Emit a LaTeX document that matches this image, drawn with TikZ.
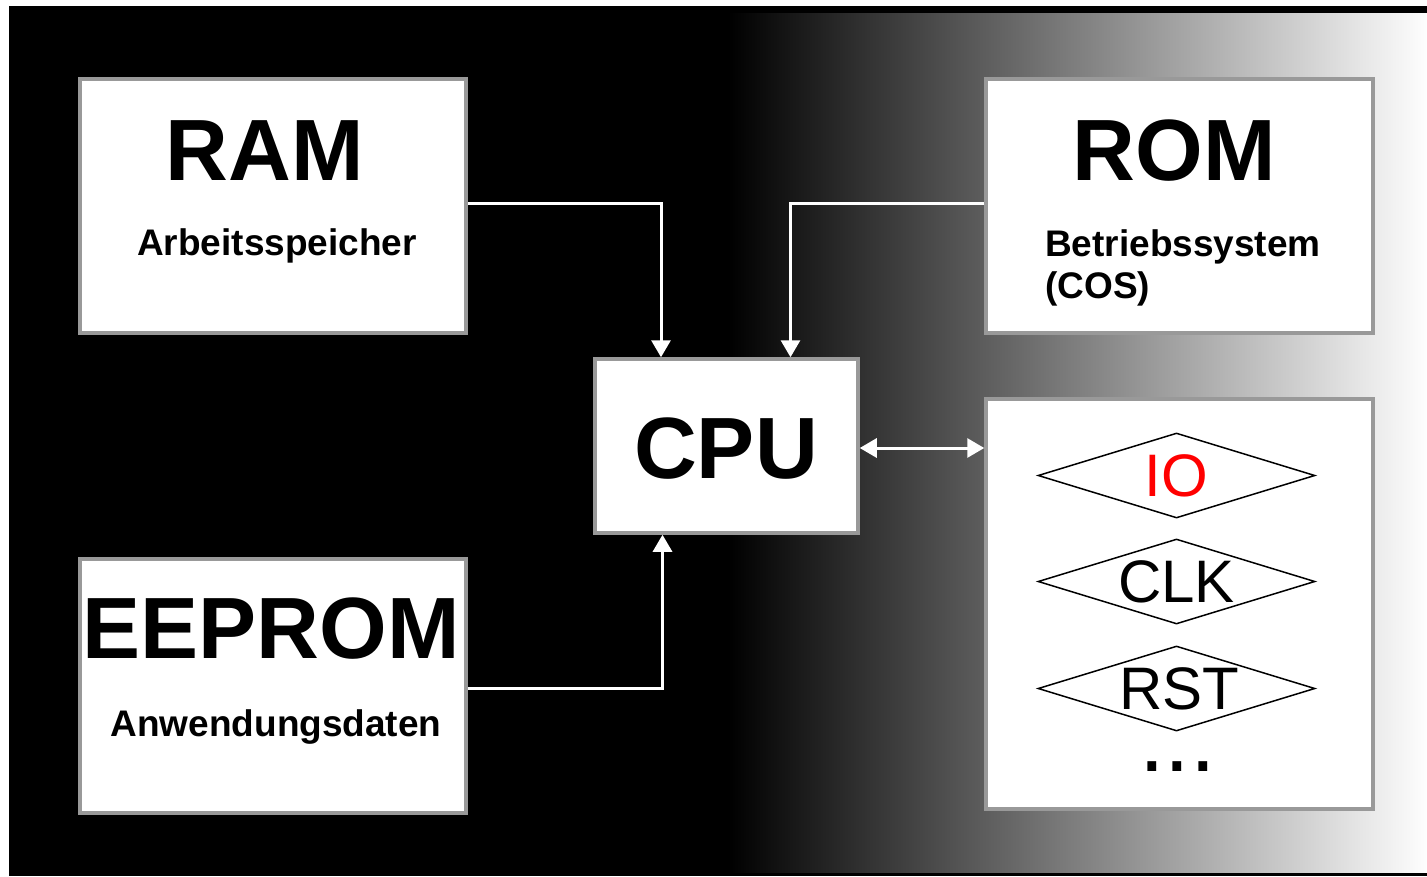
\documentclass[tikz,border=0pt]{standalone}
\usepackage{fontspec}
\setmainfont{Liberation Sans}
\usetikzlibrary{arrows.meta,shapes.geometric}
\tikzset{
  unitbox/.style={rectangle, draw=black!40, line width=3.5pt, fill=white, inner sep=0pt},
  bigtitle/.style={font=\fontsize{87}{87}\selectfont\bfseries, inner sep=0pt, anchor=base},
  subtitle/.style={font=\fontsize{37}{42}\selectfont\bfseries, inner sep=0pt, anchor=base},
  signal/.style={diamond, draw=black, line width=1.5pt, minimum width=277pt,
    minimum height=85pt, inner sep=0pt, aspect=3.26, font=\fontsize{60}{60}\selectfont},
  tip/.tip={Triangle[length=17pt,width=19pt]},
  bus/.style={draw=white, line width=3pt, -tip},
}
\begin{document}
\begin{tikzpicture}[x=1pt,y=-1pt]
\useasboundingbox (0,0) rectangle (1427,876);
% background: black panel fading to white on the right
\fill[white] (0,0) rectangle (1427,876);
\fill[black] (9,6) rectangle (1427,876);
\shade[left color=black, right color=white] (728,13) rectangle (1430,872);

% memory and processor blocks
\node[unitbox, minimum width=386pt, minimum height=254pt] (ram) at (273,206) {};
\node[unitbox, minimum width=387pt, minimum height=254pt] (rom) at (1179.5,206) {};
\node[unitbox, minimum width=386pt, minimum height=254pt] (eeprom) at (273,686) {};
\node[unitbox, minimum width=263pt, minimum height=174pt] (cpu) at (726.5,446) {};
\node[unitbox, minimum width=387pt, minimum height=410pt] (periph) at (1179.5,604) {};

% block labels
\node[bigtitle] (ramlabel) at (265,180) {RAM};
\node[subtitle] (ramsub) at (277,255) {Arbeitsspeicher};
\node[bigtitle] (romlabel) at (1174,180) {ROM};
\node[subtitle, anchor=base west] (romsub) at (1045,256) {Betriebssystem};
\node[subtitle, anchor=base west] (romsub2) at (1045,298) {(COS)};
\node[bigtitle] (eepromlabel) at (271,658) {EEPROM};
\node[subtitle] (eepromsub) at (276,736) {Anwendungsdaten};
\node[bigtitle] (cpulabel) at (726,478) {CPU};

% peripheral signals
\node[signal, text=red] (io) at (1176.5,475.5) {IO};
\node[signal] (clk) at (1176.5,581.5) {CLK};
\node[signal] (rst) at (1176.5,688.5) {\hspace*{6pt}RST};
\node[font=\fontsize{92}{92}\selectfont, inner sep=0pt, anchor=base] (more) at (1177.5,771) {...};

% data paths
\draw[bus] ([yshift=3pt]ram.east) -| ([xshift=-65.5pt]cpu.north);
\draw[bus] ([yshift=3pt]rom.west) -| ([xshift=64pt]cpu.north);
\draw[bus] ([yshift=-2pt]eeprom.east) -| ([xshift=-64pt]cpu.south);
\draw[bus, tip-tip] ([yshift=-2pt]cpu.east) -- ([yshift=-2pt]cpu.east -| periph.west);
\end{tikzpicture}
\end{document}
